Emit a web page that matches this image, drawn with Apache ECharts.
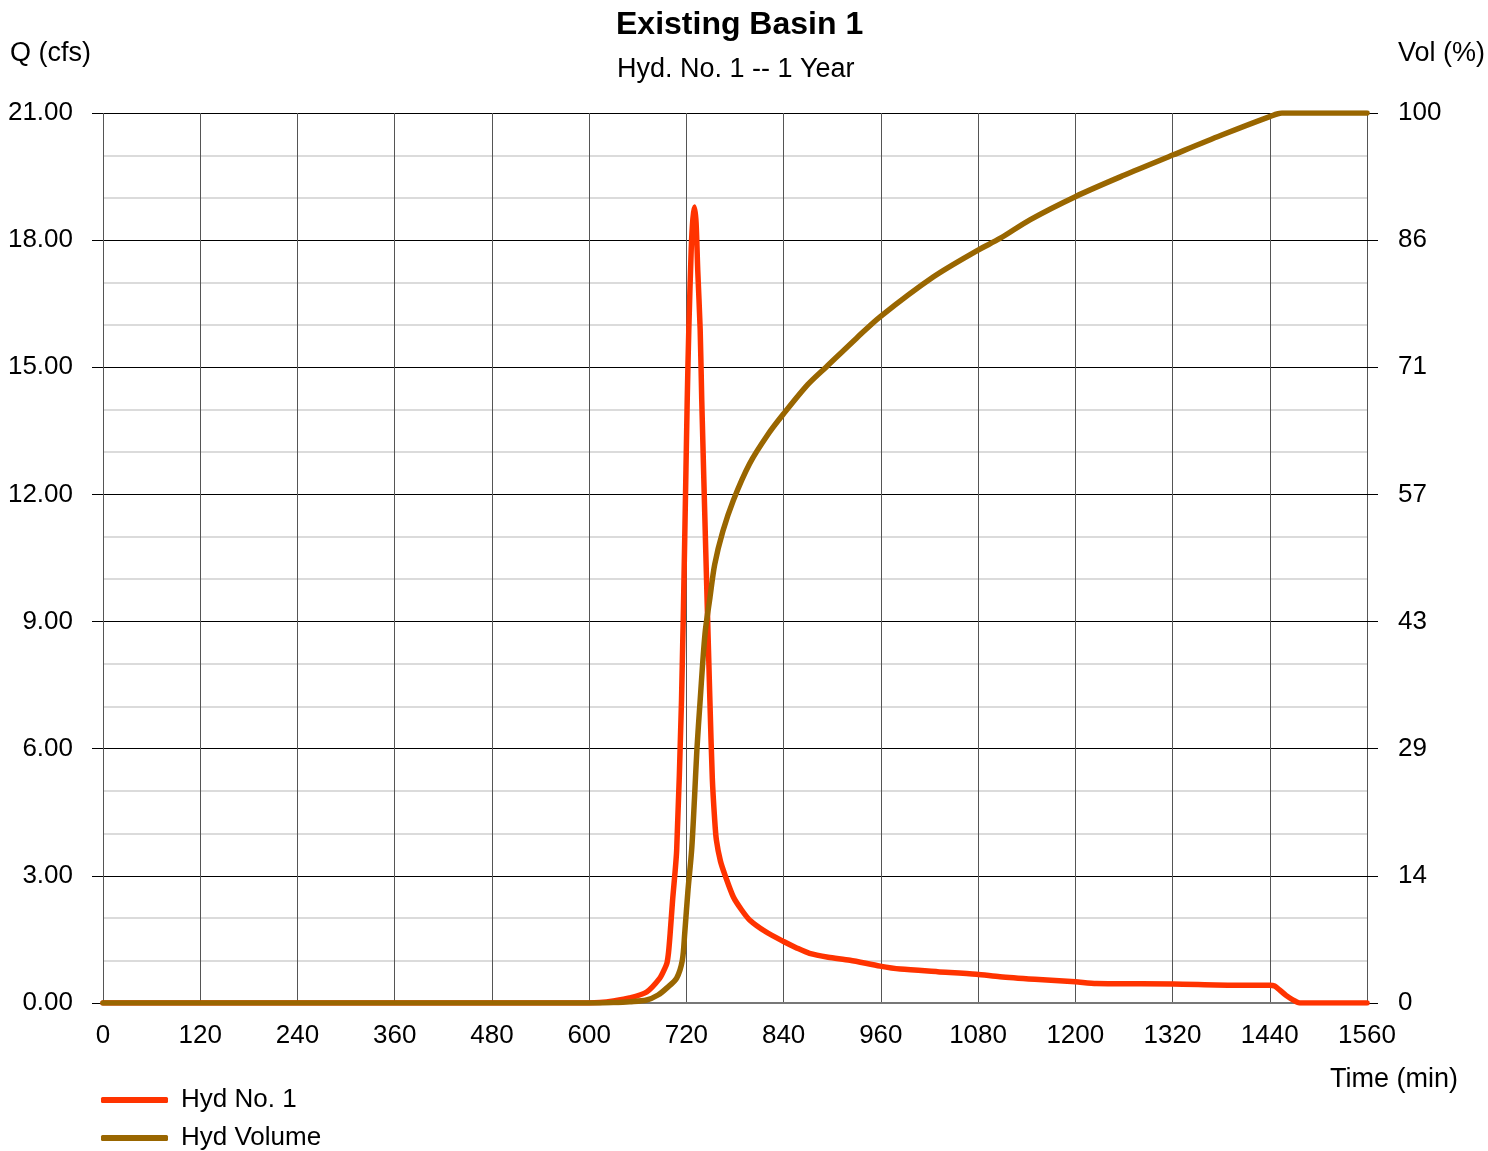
<!DOCTYPE html>
<html>
<head>
<meta charset="utf-8">
<script src="https://cdn.jsdelivr.net/npm/echarts@6/dist/echarts.min.js"></script>
<style>
  html, body { margin: 0; padding: 0; background: #fff; }
  #chart { width: 1488px; height: 1151px; }
</style>
</head>
<body>
<div id="chart"></div>
<script>
// Hydrograph: [time (min), flow (cfs)]
const hydFlow = [
  [0,0],[600,0],[613,0.01],[630,0.05],[650,0.12],[671,0.26],[687,0.58],[693,0.8],
  [696,0.94],[698,1.2],[700,1.65],[703,2.43],[708,3.6],[714,7.15],[718,11],[721,14.2],
  [723,15.9],[726,17.8],[728,18.5],[730,18.78],[732,18.4],[734,17.3],[737,15.9],[739,14.2],
  [744,10.6],[749,7.15],[752,5.3],[755,4.3],[757,3.85],[762,3.35],[768,3.0],[778,2.5],
  [788,2.2],[798,1.96],[818,1.68],[840,1.45],[856,1.3],[872,1.17],[895,1.08],[922,1.01],
  [959,0.87],[984,0.8],[1030,0.74],[1078,0.68],[1107,0.62],[1150,0.56],[1200,0.5],
  [1226,0.46],[1321,0.45],[1395,0.42],[1440,0.42],[1446,0.4],[1452,0.31],[1460,0.18],
  [1469,0.07],[1477,0],[1560,0]
];

// Cumulative volume: [time (min), percent of total]
const hydVolume = [
  [0,0],[610,0],[630,0.05],[650,0.15],[671,0.34],[685,0.9],[696,1.7],[708,2.8],[715,4.8],
  [718,7.9],[722,12.7],[726.5,17.2],[730,23],[733,28.5],[737,34],[743,41.5],[749,45.5],
  [755,49.3],[765,53],[778,56.5],[798,60.6],[820,63.8],[840,66.2],[870,69.5],[893,71.5],
  [930,74.7],[959,77.1],[1025,81.6],[1080,84.6],[1107,85.9],[1144,88],[1200,90.6],
  [1260,93],[1321,95.3],[1380,97.5],[1440,99.6],[1455,100],[1560,100]
];

// Axis ticks
const timeTicks = { min: 0, max: 1560, step: 120 };
const flowTicks = { min: 0, max: 21, step: 3 };
const volTicks = { min: 0, max: 100, divisions: 7 };

const FONT = 'Liberation Sans, Arial, sans-serif';
const chart = echarts.init(document.getElementById('chart'), null, { renderer: 'canvas' });

chart.setOption({
  backgroundColor: '#ffffff',
  animation: false,
  textStyle: { fontFamily: FONT },
  grid: { left: 103, right: 121, top: 113, bottom: 148, containLabel: false },
  graphic: [
    { type: 'text', left: 616, top: 9,
      style: { text: 'Existing Basin 1', font: 'bold 32px ' + FONT, fill: '#000' } },
    { type: 'text', left: 617, top: 56,
      style: { text: 'Hyd. No. 1 -- 1 Year', font: '27px ' + FONT, fill: '#000' } },
    { type: 'text', left: 10, top: 40,
      style: { text: 'Q (cfs)', font: '27px ' + FONT, fill: '#000' } },
    { type: 'text', left: 1398, top: 40,
      style: { text: 'Vol (%)', font: '27px ' + FONT, fill: '#000' } },
    { type: 'text', left: 1330, top: 1066,
      style: { text: 'Time (min)', font: '27px ' + FONT, fill: '#000' } }
  ],
  legend: {
    orient: 'vertical',
    left: 101,
    top: 1087,
    height: 90,
    padding: 0,
    itemWidth: 67,
    itemHeight: 6,
    itemGap: 12,
    icon: 'roundRect',
    textStyle: { fontFamily: FONT, fontSize: 26, color: '#000', padding: [0, 0, 0, 8] },
    data: ['Hyd No. 1', 'Hyd Volume']
  },
  xAxis: {
    type: 'value',
    min: timeTicks.min,
    max: timeTicks.max,
    interval: timeTicks.step,
    axisLine: { show: true, lineStyle: { color: '#777', width: 2 } },
    axisTick: { show: false },
    axisLabel: { color: '#000', fontSize: 26, fontFamily: FONT, margin: 20,
      formatter: v => String(v) },
    splitLine: { show: true, lineStyle: { color: '#555', width: 1 } }
  },
  yAxis: [
    {
      type: 'value',
      min: flowTicks.min,
      max: flowTicks.max,
      interval: flowTicks.step,
      axisLine: { show: false },
      axisTick: { show: true, length: 11, lineStyle: { color: '#000' } },
      axisLabel: { color: '#000', fontSize: 26, fontFamily: FONT, margin: 30,
        formatter: v => v.toFixed(2) },
      splitLine: { show: true, lineStyle: { color: '#000', width: 1 } },
      minorTick: { show: false, splitNumber: 3 },
      minorSplitLine: { show: true, lineStyle: { color: '#cfcfcf', width: 1.5 } }
    },
    {
      type: 'value',
      position: 'right',
      min: volTicks.min,
      max: volTicks.max,
      interval: (volTicks.max - volTicks.min) / volTicks.divisions,
      axisLine: { show: false },
      axisTick: { show: true, length: 11, lineStyle: { color: '#000' } },
      axisLabel: { color: '#000', fontSize: 26, fontFamily: FONT, margin: 31,
        formatter: v => String(Math.round(v)) },
      splitLine: { show: false }
    }
  ],
  series: [
    {
      name: 'Hyd No. 1',
      type: 'line',
      yAxisIndex: 0,
      data: hydFlow,
      showSymbol: false,
      symbol: 'none',
      smooth: 0.25,
      z: 3,
      lineStyle: { color: '#ff3300', width: 5.5, cap: 'round', join: 'round' },
      itemStyle: { color: '#ff3300' }
    },
    {
      name: 'Hyd Volume',
      type: 'line',
      yAxisIndex: 1,
      data: hydVolume,
      showSymbol: false,
      symbol: 'none',
      smooth: 0.3,
      z: 4,
      lineStyle: { color: '#996600', width: 5.5, cap: 'round', join: 'round' },
      itemStyle: { color: '#996600' }
    }
  ]
});
</script>
</body>
</html>
